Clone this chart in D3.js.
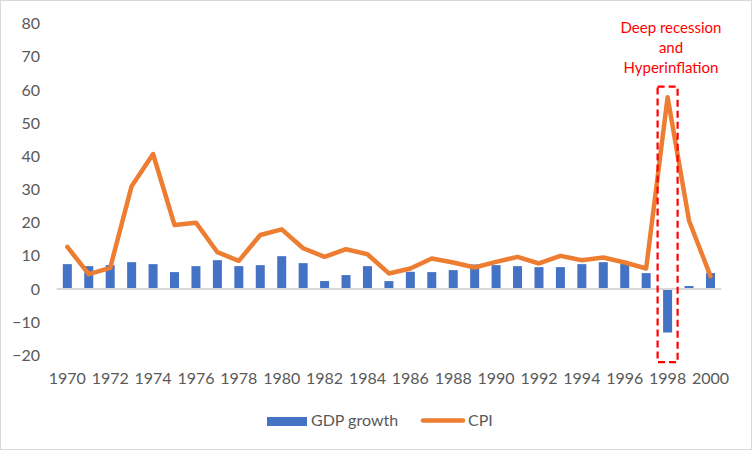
<!DOCTYPE html>
<html><head><meta charset="utf-8">
<script src="https://cdn.jsdelivr.net/npm/d3@7"></script>
<style>
html,body{margin:0;padding:0;background:#fff;}
svg{display:block;font-family:Lato,"Open Sans",sans-serif;}
</style></head>
<body>
<svg id="c" width="752" height="452"></svg>
<script>
const years = d3.range(1970, 2001).map(String);
const gdpGrowth = [7.5,6.9,7.2,8.1,7.5,5.1,6.9,8.7,6.9,7.2,9.9,7.8,2.4,4.2,6.9,2.4,5.2,5.1,5.7,7.4,7.2,6.9,6.6,6.6,7.5,8.1,7.6,4.8,-13.1,0.9,4.8];
const cpi = [12.7,4.5,6.4,31.0,40.7,19.3,20.0,11.1,8.5,16.3,18.0,12.3,9.7,12.0,10.5,4.7,6.2,9.2,8.0,6.5,8.2,9.7,7.7,10.0,8.7,9.5,8.0,6.2,57.8,20.6,3.9];
const yTicks = [-20,-10,0,10,20,30,40,50,60,70,80];
const xTickLabels = years.filter((d,i)=>i%2===0);
const seriesNames = ["GDP growth","CPI"];
const annotationLines = ["Deep recession","and","Hyperinflation"];
const annotationYear = "1998";
const annotationRange = [-22, 61];

const svg = d3.select("#c");
const x = d3.scaleBand().domain(years).range([56.6, 721.2]);
const y = d3.scaleLinear().domain([-20, 80]).range([355.4, 23.6]);
const blue = "#4472c4", orange = "#ed7d31", txt = "#595959";

// outer border
svg.append("rect").attr("x",0.5).attr("y",0.5).attr("width",751).attr("height",449)
  .attr("fill","#fff").attr("stroke","#d9d9d9").attr("stroke-width",1);

// y axis labels
const yAxis = d3.axisLeft(y).tickValues(yTicks).tickSize(0).tickPadding(0);
const gy = svg.append("g").attr("transform","translate(40,0)").call(yAxis);
gy.select(".domain").remove();
gy.selectAll("text").attr("fill",txt).style("font-size","16px").style("font-family","Lato");

// bars
const bw = 9;
svg.append("g").selectAll("rect").data(years).join("rect")
  .attr("x", (d)=>x(d)+x.bandwidth()/2-bw/2)
  .attr("width", bw)
  .attr("y", (d,i)=>y(Math.max(0,gdpGrowth[i])))
  .attr("height", (d,i)=>Math.abs(y(gdpGrowth[i])-y(0)))
  .attr("fill", blue);

// zero axis line
svg.append("line").attr("x1",x.range()[0]).attr("x2",x.range()[1])
  .attr("y1",y(0)).attr("y2",y(0)).attr("stroke","#d9d9d9").attr("stroke-width",2);

// x axis labels
const xAxis = d3.axisBottom(x).tickValues(xTickLabels).tickSize(0).tickPadding(0);
const gx = svg.append("g").attr("transform","translate(0,373)").call(xAxis);
gx.select(".domain").remove();
gx.selectAll("text").attr("fill",txt).style("font-size","16px").style("font-family","Lato");

// CPI line
const line = d3.line().x((d,i)=>x(years[i])+x.bandwidth()/2).y(d=>y(d));
svg.append("path").datum(cpi).attr("d",line).attr("fill","none")
  .attr("stroke",orange).attr("stroke-width",4.5)
  .attr("stroke-linejoin","round").attr("stroke-linecap","round");

// annotation box
const ax = x(annotationYear)+x.bandwidth()/2;
svg.append("rect").attr("x",ax-10).attr("width",20)
  .attr("y",y(annotationRange[1])).attr("height",y(annotationRange[0])-y(annotationRange[1]))
  .attr("fill","none").attr("stroke","#ff0000").attr("stroke-width",2.2)
  .attr("stroke-dasharray","7,4");

svg.append("g").selectAll("text").data(annotationLines).join("text")
  .attr("x",671).attr("y",(d,i)=>33+i*20).attr("text-anchor","middle")
  .attr("fill","#ff0000").style("font-size","15px").style("font-family","Lato").text(d=>d);

// legend
const lg = svg.append("g");
lg.append("rect").attr("x",267).attr("y",417).attr("width",40).attr("height",9).attr("fill",blue);
lg.append("text").attr("x",311).attr("y",426).attr("fill",txt).style("font-size","16px").text(seriesNames[0]);
lg.append("line").attr("x1",423).attr("x2",463).attr("y1",420.5).attr("y2",420.5)
  .attr("stroke",orange).attr("stroke-width",4.5).attr("stroke-linecap","round");
lg.append("text").attr("x",468).attr("y",426).attr("fill",txt).style("font-size","16px").text(seriesNames[1]);
</script>
</body></html>
